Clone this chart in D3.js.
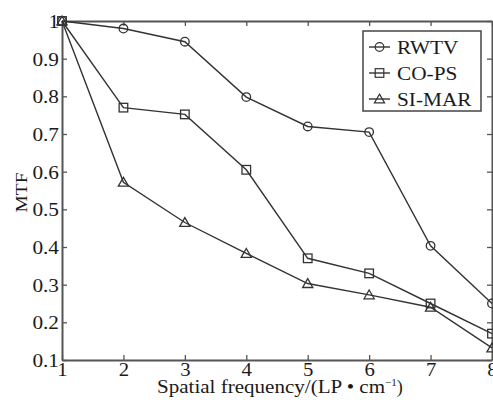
<!DOCTYPE html>
<html>
<head>
<meta charset="utf-8">
<script src="https://cdn.jsdelivr.net/npm/d3@7"></script>
<style>
  body { margin: 0; background: #fff; }
  text { font-family: "Liberation Serif", "Times New Roman", serif; fill: #1a1a1a; }
</style>
</head>
<body>
<div id="chart"></div>
<script>
// dados
const freq = [1, 2, 3, 4, 5, 6, 7, 8];
const rwtv = [1, 0.98, 0.945, 0.798, 0.72, 0.705, 0.403, 0.25];
const cops = [1, 0.77, 0.752, 0.605, 0.37, 0.33, 0.25, 0.17];
const simar = [1, 0.572, 0.465, 0.383, 0.303, 0.273, 0.24, 0.132];
const seriesNames = ["RWTV", "CO-PS", "SI-MAR"];
const markers = ["circle", "square", "triangle"];
const yTicks = [0.1, 0.2, 0.3, 0.4, 0.5, 0.6, 0.7, 0.8, 0.9, 1];

const width = 493, height = 404;
const margin = { top: 21, right: 1, bottom: 44, left: 62 };
const w = width - margin.left - margin.right;
const h = height - margin.top - margin.bottom;

const svg = d3.select("#chart").append("svg")
    .attr("width", width).attr("height", height);
const g = svg.append("g").attr("transform", `translate(${margin.left},${margin.top})`);

const x = d3.scaleLinear().domain([1, 8]).range([0, w]);
const y = d3.scaleLinear().domain([0.1, 1]).range([h, 0]);

const axisColor = "#555";

// eixo X
const xAxis = g.append("g").attr("transform", `translate(0,${h})`)
    .call(d3.axisBottom(x).tickValues(freq).tickSizeInner(-5).tickSizeOuter(0).tickPadding(3).tickFormat(d3.format("d")));
// eixo Y
const yAxis = g.append("g")
    .call(d3.axisLeft(y).tickValues(yTicks).tickSizeInner(-5).tickSizeOuter(0).tickPadding(3)
        .tickFormat(d => d === 1 ? "1" : d3.format(".1f")(d)));
// topo e direita
g.append("g").call(d3.axisTop(x).tickValues(freq).tickSizeInner(-5).tickSizeOuter(0).tickFormat(""));
g.append("g").attr("transform", `translate(${w},0)`)
    .call(d3.axisRight(y).tickValues(yTicks).tickSizeInner(-5).tickSizeOuter(0).tickFormat(""));

g.selectAll(".domain").attr("stroke", axisColor).attr("stroke-width", 2);
g.selectAll(".tick line").attr("stroke", axisColor).attr("stroke-width", 1.3);
g.selectAll(".tick text").attr("font-size", 19).attr("fill", "#1a1a1a")
    .style("font-family", "Liberation Serif, serif");
yAxis.selectAll(".tick text").attr("dy", "0.35em");
xAxis.selectAll(".tick text").attr("font-size", 18.5).attr("dy", "0.68em");

// titulos
svg.append("text")
    .attr("transform", `translate(27,${margin.top + h / 2 + 2}) rotate(-90)`)
    .attr("text-anchor", "middle").attr("font-size", 17)
    .attr("textLength", 40).attr("lengthAdjust", "spacingAndGlyphs").text("MTF");

const xt = svg.append("text")
    .attr("x", 157).attr("y", 393)
    .attr("font-size", 18);
xt.append("tspan").text("Spatial frequency/(LP \u2022 cm")
    .attr("textLength", 228).attr("lengthAdjust", "spacingAndGlyphs");
xt.append("tspan").attr("dy", -7).attr("font-size", 11).text("\u22121");
xt.append("tspan").attr("dy", 7).text(")");

const lineColor = "#333";
const line = d3.line().x((d, i) => x(freq[i])).y(d => y(d));
const allSeries = [rwtv, cops, simar];

function drawMarker(sel, type, cx, cy) {
    if (type === "circle") {
        sel.append("circle").attr("cx", cx).attr("cy", cy).attr("r", 4.3);
    } else if (type === "square") {
        sel.append("rect").attr("x", cx - 4.3).attr("y", cy - 4.3).attr("width", 8.6).attr("height", 8.6);
    } else {
        sel.append("path").attr("d", d3.symbol().type(d3.symbolTriangle).size(45)()).attr("transform", `translate(${cx},${cy + 1})`);
    }
}

allSeries.forEach((vals, k) => {
    g.append("path").datum(vals).attr("d", line)
        .attr("fill", "none").attr("stroke", lineColor).attr("stroke-width", 1.4);
    const mg = g.append("g").attr("fill", "none").attr("stroke", lineColor).attr("stroke-width", 1.3);
    vals.forEach((v, i) => drawMarker(mg, markers[k], x(freq[i]), y(v)));
});

// legenda
const lg = svg.append("g").attr("transform", "translate(363,31)");
lg.append("rect").attr("width", 118).attr("height", 80)
    .attr("fill", "#fff").attr("stroke", "#444").attr("stroke-width", 1.5);
seriesNames.forEach((name, k) => {
    const yy = 16 + k * 26;
    lg.append("line").attr("x1", 6).attr("x2", 27).attr("y1", yy).attr("y2", yy)
        .attr("stroke", lineColor).attr("stroke-width", 1.4);
    const mg = lg.append("g").attr("fill", "none").attr("stroke", lineColor).attr("stroke-width", 1.2);
    drawMarker(mg, markers[k], 16.5, yy);
    lg.append("text").attr("class", "stretch").attr("x", 34).attr("y", yy).attr("dy", "0.35em")
        .attr("font-size", 19).text(name);
});

// alargar um pouco os textos (a fonte original e mais larga)
svg.selectAll(".tick text, .stretch").each(function() {
    const len = this.getComputedTextLength();
    if (len > 0) d3.select(this).attr("textLength", len * 1.12).attr("lengthAdjust", "spacingAndGlyphs");
});
</script>
</body>
</html>
